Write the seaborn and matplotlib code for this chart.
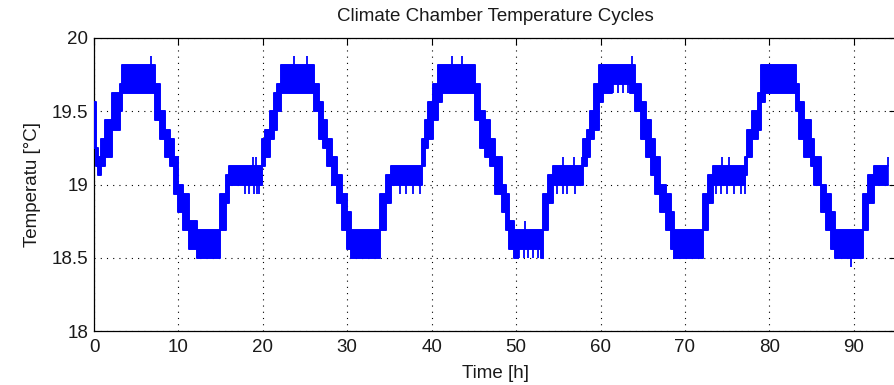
import numpy as np
import pandas as pd
import matplotlib
matplotlib.use("Agg")
import matplotlib.pyplot as plt
import seaborn as sns

# ---- data (quantised sensor band, steps-post) ----
step_time_h = [
    0.05, 0.25, 0.5, 0.85, 1.3, 2.1, 3.1, 3.3,
    7.2, 7.8, 8.4, 9.0, 9.5, 10.0, 10.5, 11.2, 12.2, 14.9, 15.6, 16.0,
    19.95, 20.3, 20.8, 21.3, 21.7, 22.2,
    26.1, 26.6, 27.1, 27.6, 28.2, 28.8, 29.4, 30.0, 30.5, 33.9, 34.6, 35.2,
    38.8, 39.2, 39.6, 40.2, 40.8, 41.2,
    45.1, 45.7, 46.3, 46.9, 47.5, 48.3, 48.8, 49.2, 49.7, 50.2, 52.9, 53.2, 53.8, 54.4,
    57.9, 58.4, 58.8, 59.2, 59.8, 60.3, 61.3, 63.5,
    64.1, 64.8, 65.4, 66.0, 66.5, 67.1, 67.7, 68.3, 68.7, 72.1, 72.7, 73.3,
    77.1, 77.4, 78.0, 78.6, 79.0, 79.5,
    83.1, 83.5, 84.1, 84.9, 85.3, 86.1, 86.7, 87.3, 87.8, 91.1, 91.7, 92.4,
    94.0,
]
band_low_c = [
    19.25, 19.125, 19.0625, 19.125, 19.1875, 19.375, 19.5, 19.625,
    19.4375, 19.3125, 19.1875, 19.125, 18.9375, 18.8125, 18.6875, 18.5625, 18.5, 18.6875, 18.875, 19.0,
    19.125, 19.1875, 19.3125, 19.375, 19.5, 19.625,
    19.5, 19.3125, 19.25, 19.125, 19.0, 18.875, 18.6875, 18.5625, 18.5, 18.6875, 18.875, 19.0,
    19.125, 19.25, 19.3125, 19.4375, 19.5625, 19.625,
    19.4375, 19.25, 19.1875, 19.125, 18.9375, 18.8125, 18.6875, 18.5625, 18.5, 18.5625, 18.5, 18.6875, 18.875, 19.0,
    19.125, 19.1875, 19.3125, 19.375, 19.5625, 19.625, 19.6875, 19.625,
    19.5, 19.3125, 19.1875, 19.0625, 18.9375, 18.8125, 18.6875, 18.5625, 18.5, 18.6875, 18.875, 19.0,
    19.0625, 19.1875, 19.3125, 19.375, 19.5625, 19.625,
    19.5, 19.3125, 19.1875, 19.125, 19.0, 18.8125, 18.6875, 18.5625, 18.5, 18.6875, 18.875, 19.0,
    19.0,
]
band_high_c = [
    19.5625, 19.25, 19.1875, 19.3125, 19.4375, 19.625, 19.6875, 19.8125,
    19.6875, 19.5, 19.375, 19.3125, 19.1875, 19.0, 18.9375, 18.75, 18.6875, 18.9375, 19.0625, 19.125,
    19.3125, 19.375, 19.5, 19.625, 19.6875, 19.8125,
    19.6875, 19.5625, 19.4375, 19.3125, 19.1875, 19.0625, 18.9375, 18.8125, 18.6875, 18.9375, 19.0625, 19.125,
    19.3125, 19.4375, 19.5625, 19.6875, 19.8125, 19.8125,
    19.6875, 19.5, 19.4375, 19.3125, 19.1875, 19.0, 18.9375, 18.75, 18.6875, 18.6875, 18.6875, 18.9375, 19.0625, 19.125,
    19.3125, 19.375, 19.5, 19.6875, 19.8125, 19.8125, 19.8125, 19.8125,
    19.6875, 19.5625, 19.4375, 19.3125, 19.1875, 19.0, 18.9375, 18.8125, 18.6875, 18.9375, 19.0625, 19.125,
    19.1875, 19.375, 19.5, 19.625, 19.8125, 19.8125,
    19.6875, 19.5625, 19.4375, 19.3125, 19.1875, 19.0, 18.9375, 18.8125, 18.6875, 18.9375, 19.0625, 19.125,
    19.125,
]

# isolated one-sample excursions (spikes up / tines down)
spike_time_h = [
    6.8, 18.8, 19.15, 23.7, 25.2, 42.4, 43.6, 51.0, 55.6, 56.8, 57.75,
    63.7, 74.4, 75.25, 89.65, 94.0,
    17.9, 18.4, 18.9, 19.3, 19.6,
    36.3, 37.0, 37.8, 38.6,
    54.8, 55.6, 56.0, 57.0,
    73.7, 74.3, 75.0, 75.8, 76.6, 77.1,
    50.4, 50.9, 51.4, 52.0, 52.6,
    61.5, 62.1, 62.7, 63.3,
]
spike_base_c = [
    19.8125, 19.125, 19.125, 19.8125, 19.8125, 19.8125, 19.8125, 18.6875, 19.125, 19.125, 19.125,
    19.8125, 19.125, 19.125, 18.5, 19.125,
    19.0, 19.0, 19.0, 19.0, 19.0,
    19.0, 19.0, 19.0, 19.0,
    19.0, 19.0, 19.0, 19.0,
    19.0, 19.0, 19.0, 19.0, 19.0, 19.0625,
    18.5625, 18.5625, 18.5625, 18.5625, 18.5625,
    19.6875, 19.6875, 19.6875, 19.6875,
]
spike_tip_c = [
    19.875, 19.1875, 19.1875, 19.875, 19.875, 19.875, 19.875, 18.75, 19.1875, 19.1875, 19.1875,
    19.875, 19.1875, 19.1875, 18.4375, 19.1875,
    18.9375, 18.9375, 18.9375, 18.9375, 18.9375,
    18.9375, 18.9375, 18.9375, 18.9375,
    18.9375, 18.9375, 18.9375, 18.9375,
    18.9375, 18.9375, 18.9375, 18.9375, 18.9375, 18.9375,
    18.5, 18.5, 18.5, 18.5, 18.5,
    19.625, 19.625, 19.625, 19.625,
]

x_ticks = [0, 10, 20, 30, 40, 50, 60, 70, 80, 90]
y_ticks = [18, 18.5, 19, 19.5, 20]
y_tick_labels = ["18", "18.5", "19", "19.5", "20"]

title_text = "Climate Chamber Temperature Cycles"
x_label = "Time [h]"
y_label = "Temperatu [°C]"

# ---- styling ----
sns.set_theme(style="white")
plt.rcParams["font.family"] = ["Liberation Sans", "DejaVu Sans"]
plt.rcParams["axes.unicode_minus"] = False

BLUE = "#0000ff"
FS = 13.5

fig = plt.figure(figsize=(8.94, 3.85), dpi=100)
fig.patch.set_facecolor("white")
ax = fig.add_axes([94 / 894, (385 - 331) / 385, (896 - 94) / 894, (331 - 38) / 385])
ax.set_facecolor("white")

df = pd.DataFrame({"time": step_time_h, "low": band_low_c, "high": band_high_c})

ax.fill_between(df["time"], df["low"], df["high"], step="post",
                facecolor=BLUE, edgecolor=BLUE, lw=1.2, zorder=3)
sns.lineplot(data=df, x="time", y="low", drawstyle="steps-post", color=BLUE,
             lw=1.2, estimator=None, sort=False, ax=ax, zorder=4)
sns.lineplot(data=df, x="time", y="high", drawstyle="steps-post", color=BLUE,
             lw=1.2, estimator=None, sort=False, ax=ax, zorder=4)
ax.vlines(spike_time_h, spike_base_c, spike_tip_c, color=BLUE, lw=1.3, zorder=4)

ax.set_xlim(0, 95)
ax.set_ylim(18, 20)
ax.set_xticks(x_ticks)
ax.set_xticklabels([str(v) for v in x_ticks])
ax.set_yticks(y_ticks)
ax.set_yticklabels(y_tick_labels)

ax.grid(True, color="black", linestyle=(0, (1, 4.6)), lw=0.8)
ax.set_axisbelow(True)

for sp in ax.spines.values():
    sp.set_visible(True)
    sp.set_color("black")
    sp.set_linewidth(0.9)

ax.tick_params(axis="both", direction="in", length=5, width=0.8, top=True, right=True,
               colors="black", labelsize=FS)
ax.tick_params(axis="x", pad=6)
ax.tick_params(axis="y", pad=4)
for lab in ax.get_xticklabels() + ax.get_yticklabels():
    lab.set_color("#1a1a1a")

ax.set_title(title_text, fontsize=FS, color="#1a1a1a", pad=12)
ax.set_xlabel(x_label, fontsize=FS, color="#1a1a1a", labelpad=6)
ax.set_ylabel(y_label, fontsize=FS, color="#1a1a1a", labelpad=8)

fig.savefig("out.png", dpi=100, facecolor="white")
